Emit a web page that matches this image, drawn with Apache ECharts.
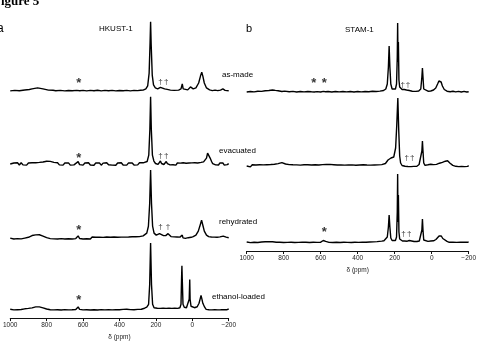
<!DOCTYPE html>
<html>
<head>
<meta charset="utf-8">
<script src="https://cdn.jsdelivr.net/npm/echarts@6/dist/echarts.min.js"></script>
<style>
  body { margin: 0; background: #fff; }
  #main { width: 479px; height: 346px; }
</style>
</head>
<body>
<div id="main"></div>
<script>
// spectra: [ppm, height above baseline]
const hkAsMade = [[1000,0],[975,0.5],[950,0.1],[920,0.9],[895,1.4],[880,2],[850,3],[820,2],[790,0.8],[765,0.6],[750,0.1],[725,0.5],[700,0],[680,0.4],[660,0.1],[635,0.5],[626,1.6],[618,0.2],[600,0.5],[580,0],[560,0.5],[540,0.1],[520,0.6],[500,0],[480,0.5],[460,0.1],[440,0.5],[420,0],[400,0.4],[380,0.1],[360,0.5],[340,0],[320,0.5],[300,0.3],[285,0.7],[270,0.8],[255,2],[245,5],[237,18],[232,48],[229,70],[226,48],[220,16],[213,6],[203,3],[190,2],[180,2.5],[175,3.5],[169,2.5],[152,2],[144,2.8],[138,1.5],[120,0.8],[100,0.5],[75,0.8],[62,2],[55,7],[50,2],[40,1],[25,1],[15,2.5],[10,4],[5,2],[-5,2],[-20,3],[-35,8],[-45,15],[-52,19],[-58,15],[-66,8],[-78,3],[-95,1],[-110,0.3],[-125,0.8],[-140,0.2],[-155,0.8],[-168,2],[-180,0.5],[-190,0.8],[-200,0.2]]
const hkEvac = [[1000,0],[990,-1.3],[980,1],[970,-0.8],[960,1.2],[950,-1],[940,1.3],[930,-0.9],[920,0.8],[910,-1.2],[900,1],[890,-0.6],[880,1.2],[870,-0.5],[860,1.3],[850,0.2],[840,1.6],[830,0.6],[820,2],[810,1.4],[800,2.8],[790,2],[780,2.6],[770,1.2],[760,1.6],[750,0],[740,1.2],[730,-0.9],[720,0.9],[710,-1.2],[700,1],[690,-0.8],[680,1.1],[670,-1.2],[660,0.7],[650,-0.9],[640,1.1],[627,2.4],[619,-0.6],[610,0.9],[600,-1.2],[590,1],[580,-0.9],[570,1.2],[560,-1],[550,0.8],[540,-1.3],[530,1.1],[520,-0.7],[510,1],[500,-1.2],[490,0.9],[480,-1],[470,1.3],[460,-0.8],[450,1],[440,-1.1],[430,0.7],[420,-1.3],[410,1],[400,-0.8],[390,1.2],[380,-1],[370,0.9],[360,-1.2],[350,1.1],[340,-0.7],[330,1],[320,-1.1],[310,0.8],[300,-0.9],[290,1.2],[280,-0.4],[270,1.2],[260,0.5],[248,2.5],[239,9],[233,35],[229,68],[225,35],[219,9],[211,3],[202,0.5],[195,1.2],[188,-0.4],[181,1.5],[175,3],[169,0.5],[163,1],[156,-0.5],[149,1.5],[143,2.5],[137,0.4],[130,1],[122,-0.9],[114,1.1],[106,-0.8],[98,0.9],[90,-1.1],[82,1],[74,-0.7],[66,0.9],[58,-1],[50,1.2],[42,-0.8],[34,0.8],[26,-1.1],[18,1],[10,-0.6],[2,1.1],[-6,-0.7],[-14,1.2],[-22,-0.4],[-30,1],[-40,0.2],[-48,1.6],[-55,0.8],[-62,2.2],[-68,2.5],[-78,6],[-84,11],[-88,13],[-92,11],[-98,6],[-106,2.5],[-112,0.4],[-120,1.2],[-128,-0.9],[-136,0.9],[-144,-1],[-152,1.1],[-160,-0.8],[-168,1],[-176,-1.1],[-184,0.9],[-192,-0.7],[-200,0.4]]
const hkRehyd = [[1000,0],[990,1],[980,-0.9],[970,1.1],[960,-0.6],[950,1.2],[940,-0.8],[930,1],[920,0],[910,1.4],[900,0.8],[890,2],[880,2.6],[870,3.8],[860,3.2],[850,4.4],[840,3.4],[830,3.6],[820,2],[810,1.8],[800,0.4],[790,1],[780,-0.5],[770,1],[760,-0.8],[750,0.9],[740,-0.9],[730,1.1],[720,-0.6],[710,0.9],[700,-1],[690,0.8],[680,-0.7],[670,1.1],[660,-0.9],[650,0.8],[640,-0.5],[627,2.2],[619,-0.4],[610,0.9],[600,-0.9],[590,1],[580,-0.7],[570,0.8],[560,-1],[550,1.1],[540,-0.6],[530,0.9],[520,-0.9],[510,1],[500,-1],[490,0.7],[480,-0.8],[470,1.1],[460,-0.6],[450,0.9],[440,-0.9],[430,1.1],[420,-0.4],[410,0.8],[400,-0.9],[390,1],[380,-0.6],[370,1],[360,-0.2],[350,1.1],[340,0],[330,1.3],[320,0.3],[310,1.4],[300,0.6],[290,1.5],[280,1.2],[270,2.2],[262,2.5],[250,5],[241,12],[234,35],[229,69],[224,35],[218,12],[210,5],[198,3],[188,3],[180,4.5],[175,5],[169,3.5],[158,2.5],[146,2.5],[138,4],[133,4.5],[127,3],[117,1.5],[108,0.3],[100,1.2],[92,-0.3],[84,1.1],[76,-0.4],[68,1],[60,0.6],[55,3],[51,0.2],[44,1],[38,-0.3],[30,1],[22,0.4],[12,2],[6,0.8],[-5,1.5],[-20,3],[-33,7],[-43,13],[-51,18],[-58,13],[-66,7],[-78,3],[-90,1.5],[-98,0.2],[-105,1.1],[-112,-0.5],[-120,1],[-128,-0.6],[-136,0.9],[-144,-0.6],[-152,1.2],[-160,0.6],[-170,2],[-178,0.4],[-186,0.9],[-193,-0.5],[-200,0.3]]
const hkEtOH = [[1000,0],[990,0.9],[980,-0.7],[970,1],[960,-0.5],[950,1.1],[940,-0.3],[930,1],[920,0.4],[910,1.3],[900,0.8],[890,1.6],[880,1.4],[870,2.6],[860,2.4],[850,3.2],[840,2.4],[830,2.6],[820,1.4],[810,1.5],[800,0.2],[790,0.9],[780,-0.6],[770,0.9],[760,-0.7],[750,1],[740,-0.5],[730,0.8],[720,-0.8],[710,1],[700,-0.4],[690,0.9],[680,-0.7],[670,1],[660,-0.6],[650,0.8],[640,-0.3],[627,2.3],[619,-0.2],[610,0.9],[600,-0.7],[590,1],[580,-0.6],[570,0.8],[560,-0.8],[550,1],[540,-0.5],[530,0.9],[520,-0.8],[510,1],[500,-0.4],[490,0.8],[480,-0.7],[470,1],[460,-0.5],[450,0.9],[440,-0.7],[430,1],[420,-0.5],[410,0.8],[400,-0.6],[390,1],[380,-0.2],[370,1.4],[360,0],[350,1],[340,-0.4],[330,0.9],[320,-0.5],[310,1],[300,-0.2],[290,0.8],[280,0],[270,1],[262,1],[250,2],[240,5],[234,25],[229,67],[224,25],[218,5],[210,1.5],[200,-0.2],[192,1],[184,-0.4],[176,0.8],[168,-0.6],[160,0.9],[152,-0.5],[144,0.8],[136,-0.6],[128,0.9],[120,-0.3],[112,0.8],[104,-0.5],[96,0.9],[88,0],[80,0.8],[68,1.5],[62,5],[59,30],[57,44],[55,30],[51,5],[44,2],[32,1.5],[22,3],[17,10],[14,30],[12,10],[7,3],[0,1.5],[-12,1.5],[-27,2.5],[-37,6],[-44,11],[-48,14],[-52,11],[-58,6],[-68,2],[-76,-0.2],[-84,1],[-92,-0.6],[-100,0.8],[-108,-0.7],[-116,1],[-124,-0.5],[-132,0.9],[-140,-0.7],[-148,0.8],[-156,-0.6],[-164,1],[-172,-0.4],[-180,0.9],[-188,-0.6],[-200,0.2]]

const stAsMade = [[1000,0],[980,0.5],[960,0.1],[940,0.8],[920,0.6],[900,1.3],[880,1.5],[860,2],[845,1.6],[830,1.3],[810,0.5],[795,0.9],[770,0.2],[750,0.6],[730,0],[710,0.5],[690,0.1],[670,0.5],[650,0.2],[641,1.6],[635,0],[620,0.4],[600,0],[586,0.6],[580,1.9],[574,0.2],[560,0.5],[540,0],[520,0.5],[500,0.1],[480,0.5],[460,0.1],[440,0.5],[420,0],[400,0.5],[380,0.1],[360,0.5],[340,0.2],[320,0.7],[300,0.5],[280,0.9],[260,1.5],[248,3],[240,8],[234,25],[230,46],[226,25],[221,8],[214,3],[205,2],[196,3],[190,8],[186,35],[184,69],[182,30],[180,50],[177,12],[173,5],[167,3],[160,2.5],[155,3.5],[148,2.5],[136,2],[128,3],[121,1.5],[105,0.8],[85,0.6],[70,1],[59,3],[53,15],[50,24],[47,15],[43,3],[35,1],[20,0.8],[5,1],[-10,2],[-22,4],[-32,8],[-39,11],[-45,12],[-51,10],[-58,6],[-68,2.5],[-83,0.8],[-100,0.3],[-115,0.8],[-130,0.1],[-145,0.6],[-160,0],[-175,0.6],[-190,0],[-200,0.3]]
const stEvac = [[1000,0],[990,1.1],[980,-0.9],[970,1.2],[960,-0.6],[950,1],[940,-1],[930,1.2],[920,-0.3],[910,1.1],[900,-0.5],[890,1.3],[880,0.2],[870,1.5],[860,0.6],[850,1.8],[840,1.2],[830,2.4],[820,2.4],[810,3.4],[800,2.4],[790,2],[780,0.8],[770,1.4],[760,-0.2],[750,1.2],[740,-0.6],[730,1.1],[720,-0.8],[710,0.9],[700,-0.6],[690,1.2],[680,-0.4],[670,1.3],[660,0],[650,1],[640,-0.6],[630,1.2],[620,-0.3],[610,1],[600,0],[590,1.4],[580,0.2],[570,1.5],[560,0.4],[550,1.6],[540,0.2],[530,1.3],[520,-0.3],[510,1],[500,-0.6],[490,1.1],[480,-0.8],[470,0.9],[460,-0.6],[450,1],[440,-0.7],[430,1.1],[420,-0.5],[410,0.8],[400,-0.8],[390,1],[380,-0.5],[370,1.2],[360,-0.4],[350,1],[340,-0.6],[330,0.9],[320,-0.7],[310,1],[300,-0.3],[290,1.1],[280,0.2],[270,1.4],[260,1],[250,2.5],[242,4],[236,6],[231,7],[226,4.5],[220,8],[212,7.5],[205,9],[200,11],[195,18],[189,40],[183,68],[178,35],[173,10],[168,3],[160,0.5],[152,1.3],[144,-0.3],[136,1],[128,-0.5],[120,0.9],[112,-0.6],[104,1],[96,-0.4],[88,0.8],[80,-0.2],[68,1.5],[59,3],[53,15],[50,25],[47,15],[43,3],[36,0.6],[28,2.2],[20,1.2],[12,3.2],[5,1.8],[-3,3],[-10,1.4],[-18,2.8],[-26,1.6],[-34,3.6],[-42,2.8],[-50,4.4],[-58,3.6],[-66,5.4],[-74,4.8],[-80,6.4],[-86,5.2],[-92,4.6],[-98,3],[-106,2.4],[-114,0.6],[-122,1.2],[-130,-0.3],[-138,1],[-146,-0.6],[-154,0.9],[-162,-0.5],[-170,1],[-178,-0.6],[-186,0.8],[-194,-0.4],[-200,0.3]]
const stRehyd = [[1000,0],[990,0.7],[980,-0.6],[970,0.9],[960,-0.3],[950,0.8],[940,-0.5],[930,0.9],[920,0],[910,1],[900,0.2],[890,1.1],[880,0.4],[870,1.2],[860,0.3],[850,1],[840,-0.2],[830,0.9],[820,-0.3],[810,0.8],[800,-0.5],[790,0.7],[780,-0.4],[770,0.8],[760,-0.2],[750,0.9],[740,-0.5],[730,0.6],[720,-0.4],[710,0.8],[700,-0.3],[690,0.9],[680,-0.2],[670,0.7],[660,-0.5],[650,0.8],[640,-0.2],[630,0.8],[620,-0.4],[610,0.7],[600,-0.2],[592,0.8],[586,1.5],[580,2.4],[573,0.6],[565,0.9],[555,-0.4],[545,0.7],[535,-0.5],[525,0.8],[515,-0.3],[505,0.6],[495,-0.5],[485,0.7],[475,-0.3],[465,0.8],[455,-0.4],[445,0.6],[435,-0.5],[425,0.8],[415,-0.2],[405,0.7],[395,-0.4],[385,0.8],[375,-0.2],[365,0.7],[355,-0.3],[345,0.8],[335,0],[325,0.7],[315,0.1],[305,0.9],[295,0.4],[285,0.8],[270,0.9],[258,1.2],[248,2],[240,5],[234,15],[230,27],[226,15],[221,4],[214,1.5],[205,1],[196,1.5],[190,5],[186,30],[184,68],[182,20],[180,47],[177,10],[173,3],[166,1.5],[158,1],[153,1.8],[147,1],[132,0.8],[121,1.5],[113,0.8],[95,0.5],[80,0.5],[67,1],[59,3],[53,12],[50,23],[47,12],[43,2],[35,0.5],[20,0.6],[5,1],[-10,1.2],[-23,2.5],[-33,4.5],[-40,6],[-46,7],[-52,6],[-60,3.5],[-70,1.5],[-83,0.6],[-95,-0.3],[-105,0.8],[-115,-0.3],[-125,0.7],[-135,-0.4],[-145,0.6],[-155,-0.3],[-165,0.7],[-175,-0.2],[-185,0.6],[-193,-0.3],[-200,0.2]]

const hkTraces = [hkAsMade, hkEvac, hkRehyd, hkEtOH]
const hkOffsets = [230, 156, 81, 9]
const stTraces = [stAsMade, stEvac, stRehyd]
const stOffsets = [159, 85, 9]
const traceNames = ['as-made', 'evacuated', 'rehydrated', 'ethanol-loaded']

// spinning side bands (*) and other marks (†): [trace, ppm, height]
const hkStars = [[0,624,8],[1,624,6],[2,624,8],[3,624,9]]
const hkDaggers = [[0,175,9],[0,143,9],[1,175,8],[1,143,8],[2,175,11],[2,133,11]]
const stStars = [[0,638,9],[0,580,9],[2,580,10]]
const stDaggers = [[0,156,7],[0,128,7],[1,135,8],[1,105,8],[2,153,8],[2,121,8]]

const xTicks = { min: -200, max: 1000, interval: 200 }

let myChart = echarts.init(document.getElementById('main'))

function shift(trace, off) {
  return trace.map(p => [p[0], p[1] + off])
}
function marks(list, offs) {
  return list.map(m => [m[1], offs[m[0]] + m[2]])
}
function xAxis(idx, gap) {
  return {
    gridIndex: idx,
    type: 'value',
    inverse: true,
    min: xTicks.min,
    max: xTicks.max,
    interval: xTicks.interval,
    splitLine: { show: false },
    axisLine: { lineStyle: { color: '#111', width: 1 } },
    axisTick: { length: 3, lineStyle: { color: '#111' } },
    axisLabel: {
      color: '#222', fontSize: 6.5, margin: 4, fontFamily: 'Liberation Sans',
      formatter: v => String(v).replace('-', '\u2212')
    },
    name: 'δ (ppm)',
    nameLocation: 'middle',
    nameGap: gap,
    nameTextStyle: { color: '#222', fontSize: 6.5, fontFamily: 'Liberation Sans' }
  }
}

let series = []
hkTraces.forEach((t, i) => {
  series.push({ type: 'line', xAxisIndex: 0, yAxisIndex: 0, data: shift(t, hkOffsets[i]), showSymbol: false, lineStyle: { color: '#000', width: 1.4 }, silent: true })
})
stTraces.forEach((t, i) => {
  series.push({ type: 'line', xAxisIndex: 1, yAxisIndex: 1, data: shift(t, stOffsets[i]), showSymbol: false, lineStyle: { color: '#000', width: 1.4 }, silent: true })
})
function markSeries(ax, data, text, size, weight) {
  return {
    type: 'scatter', xAxisIndex: ax, yAxisIndex: ax, data: data,
    symbolSize: 1, itemStyle: { color: 'rgba(0,0,0,0)' }, silent: true,
    label: { show: true, position: 'inside', formatter: text, color: '#000', fontSize: size, fontWeight: weight, fontFamily: 'Liberation Sans' }
  }
}
series.push(markSeries(0, marks(hkStars, hkOffsets), '*', 13, 'bold'))
series.push(markSeries(0, marks(hkDaggers, hkOffsets), '†', 8, 'normal'))
series.push(markSeries(1, marks(stStars, stOffsets), '*', 13, 'bold'))
series.push(markSeries(1, marks(stDaggers, stOffsets), '†', 8, 'normal'))

function txt(x, y, text, font) {
  return { type: 'text', x: x, y: y, style: { text: text, font: font, fill: '#000', verticalAlign: 'middle' } }
}

let option = {
  animation: false,
  backgroundColor: '#fff',
  grid: [
    { left: 2.3, width: 226.4, top: 0, height: 322 },
    { left: 246.7, width: 226.6, top: 0, height: 251 }
  ],
  xAxis: [xAxis(0, 14), xAxis(1, 13)],
  yAxis: [
    { gridIndex: 0, type: 'value', min: 0, max: 322, show: false },
    { gridIndex: 1, type: 'value', min: 0, max: 251, show: false }
  ],
  graphic: [
    txt(-7, 2, 'Figure 5', 'bold 13px "Liberation Serif"'),
    txt(-3, 29, 'a', '12px "Liberation Sans"'),
    txt(246, 29, 'b', '11px "Liberation Sans"'),
    txt(99, 29, 'HKUST-1', '8px "Liberation Sans"'),
    txt(345, 30, 'STAM-1', '8px "Liberation Sans"'),
    txt(222, 75, traceNames[0], '8px "Liberation Sans"'),
    txt(219, 151, traceNames[1], '8px "Liberation Sans"'),
    txt(219, 222, traceNames[2], '8px "Liberation Sans"'),
    txt(212, 297, traceNames[3], '8px "Liberation Sans"')
  ],
  series: series
}

myChart.setOption(option)
</script>
</body>
</html>
